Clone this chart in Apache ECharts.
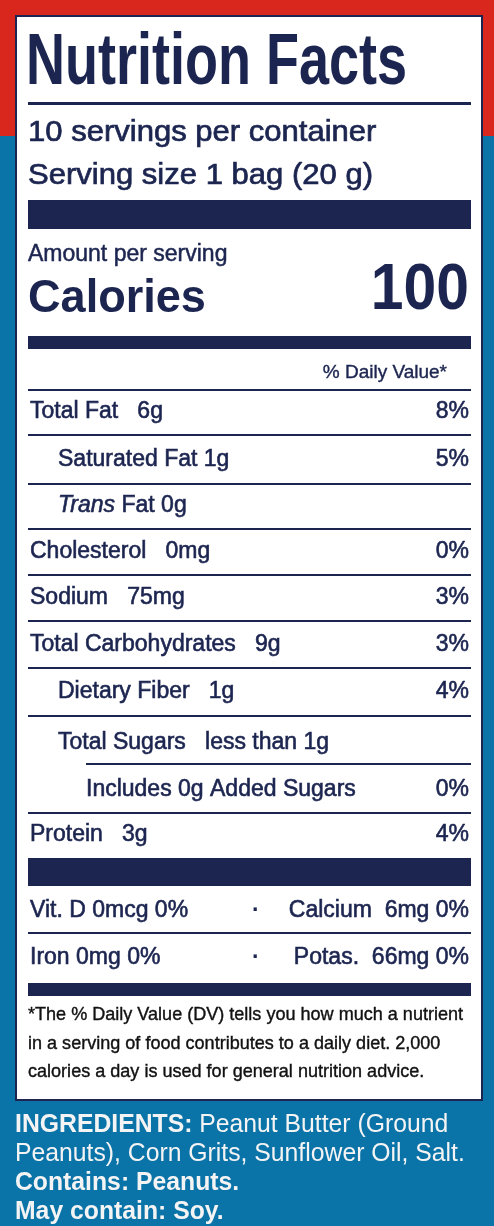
<!DOCTYPE html>
<html><head><meta charset="utf-8">
<script src="https://cdn.jsdelivr.net/npm/echarts@6/dist/echarts.min.js"></script>
<style>html,body{margin:0;padding:0;background:#0a73a8}#c{width:494px;height:1226px}</style>
</head><body><div id="c"></div>
<script>
const title = "Nutrition Facts";
const servingLines = ["10 servings per container", "Serving size 1 bag (20 g)"];
const calories = "100";
const nutrientNames = ["Total Fat", "Saturated Fat", "Trans Fat", "Cholesterol", "Sodium", "Total Carbohydrates", "Dietary Fiber", "Total Sugars", "Includes 0g Added Sugars", "Protein"];
const nutrientAmounts = ["6g", "1g", "0g", "0mg", "75mg", "9g", "1g", "less than 1g", "", "3g"];
const nutrientDV = ["8%", "5%", "", "0%", "3%", "3%", "4%", "", "0%", "4%"];
const nutrientIndent = [0, 1, 1, 0, 0, 0, 1, 1, 2, 0];
const vitaminLeft = ["Vit. D 0mcg 0%", "Iron 0mg 0%"];
const vitaminRight = ["Calcium  6mg 0%", "Potas.  66mg 0%"];
const footnote = ["*The % Daily Value (DV) tells you how much a nutrient", "in a serving of food contributes to a daily diet. 2,000", "calories a day is used for general nutrition advice."];
const ingredients = [["INGREDIENTS:", " Peanut Butter (Ground"], ["", "Peanuts), Corn Grits, Sunflower Oil, Salt."], ["Contains: Peanuts.", ""], ["May contain: Soy.", ""]];

const NAVY = "#1c2550", FONT = "Liberation Sans";
const els = [];
function rect(x, y, w, h, fill, extra) { els.push(Object.assign({type:'rect', shape:{x,y,width:w,height:h}, style:{fill}}, extra||{})); }
function txt(x, y, s, size, o) {
  o = o || {};
  const align = o.align || 'left', sx = o.sx || 1;
  const fill = o.fill || NAVY;
  els.push({type:'text', x, y, scaleX:sx, originX:0, originY:0,
    style:{text:s, fontSize:size, fontFamily:FONT, fontWeight:o.bold?'bold':'normal', fontStyle:o.italic?'italic':'normal',
      fill, stroke: o.sw ? fill : null, lineWidth: o.sw || 0, align, verticalAlign:'middle', rich:o.rich}});
}
function rs(size, fill, extra) { return Object.assign({fontSize:size, fontFamily:FONT, fill, stroke:fill, lineWidth:0.6}, extra||{}); }
// background
rect(0, 0, 494, 136, "#d9271e");
rect(0, 136, 494, 1090, "#0a73a8");
rect(16, 16, 466, 1084, "#ffffff", {style:{fill:'#fff', stroke:NAVY, lineWidth:2}});
// header
txt(26, 64, title, 72, {bold:true, sx:0.75});
rect(28, 102, 443, 3, NAVY);
txt(28, 133, servingLines[0], 29, {sx:1.07, sw:0.7});
txt(28, 176, servingLines[1], 29, {sx:1.07, sw:0.7});
rect(28, 200, 443, 29, NAVY);
txt(28, 255, "Amount per serving", 23, {sx:1.0, sw:0.5});
txt(28, 299, "Calories", 46, {bold:true, sx:0.98});
txt(469, 291, calories, 64, {bold:true, align:'right', sx:0.92});
rect(28, 336, 443, 13, NAVY);
txt(447, 373, "% Daily Value*", 19, {align:'right', sw:0.4});
rect(28, 389, 443, 2, NAVY);
// rows
const rowY = [412, 460, 506, 552, 598, 645, 692, 743, 790, 835];
const lineY = [435, 484, 529, 575, 621, 668, 716, 764, 813];
const indentX = [30, 58, 86];
nutrientNames.forEach((n, i) => {
  const x = indentX[nutrientIndent[i]];
  let s;
  if (i === 2) s = "{it|Trans} {b|Fat} {b|" + nutrientAmounts[i] + "}";
  else s = "{b|" + n + "}" + (nutrientAmounts[i] ? (i===1 ? " " : "   ") + "{b|" + nutrientAmounts[i] + "}" : "");
  txt(x, rowY[i], s, 23, {rich:{b:rs(23, NAVY), it:rs(23, NAVY, {fontStyle:'italic'})}});
  if (nutrientDV[i]) txt(469, rowY[i], nutrientDV[i], 23, {align:'right', sw:0.6});
});
lineY.forEach((y, i) => { const x = i === 7 ? 86 : 28; rect(x, y - 1, 471 - x, 2, NAVY); });
rect(28, 858, 443, 28, NAVY);
vitaminLeft.forEach((s, i) => {
  const y = [911, 958][i];
  txt(30, y, s, 23, {sw:0.6});
  txt(252, y, "·", 23, {bold:true});
  txt(469, y, vitaminRight[i], 23, {align:'right', sw:0.6});
});
rect(28, 932, 443, 2, NAVY);
rect(28, 983, 443, 13, NAVY);
footnote.forEach((s, i) => txt(28, 1015 + i * 28.5, s, 19, {fill:'#111', sx:0.95, sw:0.4}));
// ingredients
ingredients.forEach((p, i) => {
  const s = (p[0] ? "{b|" + p[0] + "}" : "") + (p[1] ? "{n|" + p[1] + "}" : "");
  txt(15, 1125 + i * 29, s, 25, {sx:0.99, rich:{
    b:{fontSize:25, fontFamily:FONT, fontWeight:'bold', fill:'#f4f4f4'},
    n:{fontSize:25, fontFamily:FONT, fill:'#f4f4f4'}}});
});
const chart = echarts.init(document.getElementById('c'));
chart.setOption({animation:false, graphic:{elements:els}});
</script></body></html>
